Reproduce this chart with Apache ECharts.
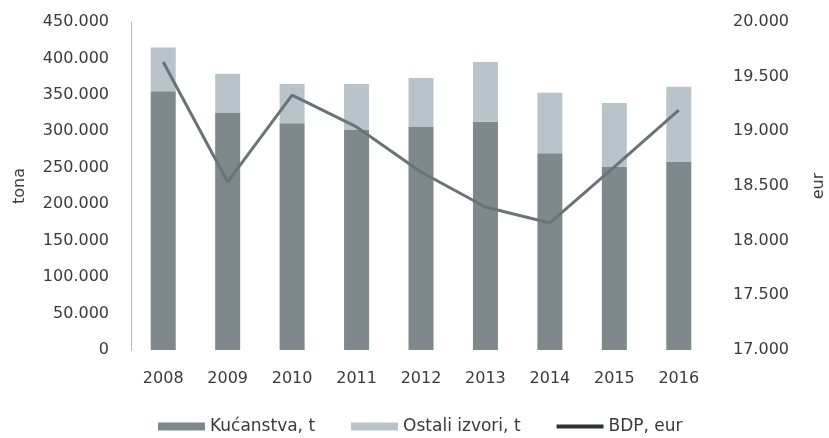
<!DOCTYPE html>
<html>
<head>
<meta charset="utf-8">
<script src="https://cdn.jsdelivr.net/npm/echarts@6/dist/echarts.min.js"></script>
<style>
html,body{margin:0;padding:0;background:#fff;}
#chart{width:829px;height:438px;}
</style>
</head>
<body>
<div id="chart"></div>
<script>
const years = ['2008','2009','2010','2011','2012','2013','2014','2015','2016'];
const kucanstva = [355000, 326000, 311000, 302000, 306000, 313000, 270000, 251000, 258000];
const ostali = [60000, 53000, 54000, 63000, 67000, 82000, 83000, 88000, 103000];
const bdp = [19634, 18537, 19332, 19040, 18628, 18308, 18162, 18674, 19195];
const leftTicks = {min: 0, max: 450000, interval: 50000};
const rightTicks = {min: 17000, max: 20000, interval: 500};

const fmt = v => {
  if (v === 0) return '0';
  const s = String(Math.round(v));
  return s.replace(/\B(?=(\d{3})+(?!\d))/g, '.');
};
const txt = '#3a3a3a';
const font = 'DejaVu Sans';

const chart = echarts.init(document.getElementById('chart'), null, {renderer: 'canvas'});
chart.setOption({
  animation: false,
  backgroundColor: '#fff',
  textStyle: {fontFamily: font},
  grid: {left: 131, right: 118, top: 22, bottom: 88, containLabel: false, outerBoundsMode: 'none'},
  legend: {
    left: 153, top: 413,
    itemWidth: 47, itemHeight: 8, itemGap: 36,
    textStyle: {fontFamily: font, fontSize: 17, color: txt},
    data: [
      {name: 'Kućanstva, t', icon: 'rect'},
      {name: 'Ostali izvori, t', icon: 'rect'},
      {name: 'BDP, eur', icon: 'path://M0,0 L48,0 L48,4 L0,4 Z', itemStyle: {color: '#2e3233'}}
    ]
  },
  xAxis: {
    type: 'category', data: years,
    axisLine: {show: false}, axisTick: {show: false},
    axisLabel: {fontFamily: font, fontSize: 16, color: txt, margin: 21}
  },
  yAxis: [
    {
      type: 'value', min: leftTicks.min, max: leftTicks.max, interval: leftTicks.interval,
      name: 'tona', nameLocation: 'middle', nameRotate: 90, nameGap: 103,
      nameTextStyle: {fontFamily: font, fontSize: 16, color: txt},
      axisLine: {show: true, lineStyle: {color: '#b8b8b8', width: 1}},
      axisTick: {show: false}, splitLine: {show: false},
      axisLabel: {fontFamily: font, fontSize: 16, color: txt, margin: 22, formatter: fmt}
    },
    {
      type: 'value', min: rightTicks.min, max: rightTicks.max, interval: rightTicks.interval,
      name: 'eur', nameLocation: 'middle', nameRotate: 90, nameGap: 100,
      nameTextStyle: {fontFamily: font, fontSize: 16, color: txt},
      axisLine: {show: false}, axisTick: {show: false}, splitLine: {show: false},
      axisLabel: {fontFamily: font, fontSize: 16, color: txt, margin: 22, formatter: fmt}
    }
  ],
  series: [
    {name: 'Kućanstva, t', type: 'bar', stack: 'a', barWidth: 25, data: kucanstva,
     itemStyle: {color: '#7f888a'}},
    {name: 'Ostali izvori, t', type: 'bar', stack: 'a', barWidth: 25, data: ostali,
     itemStyle: {color: '#b8c3ca'}},
    {name: 'BDP, eur', type: 'line', yAxisIndex: 1, data: bdp, symbol: 'none',
     lineStyle: {color: '#687477', width: 3}, itemStyle: {color: '#687477'}}
  ]
});
</script>
</body>
</html>
